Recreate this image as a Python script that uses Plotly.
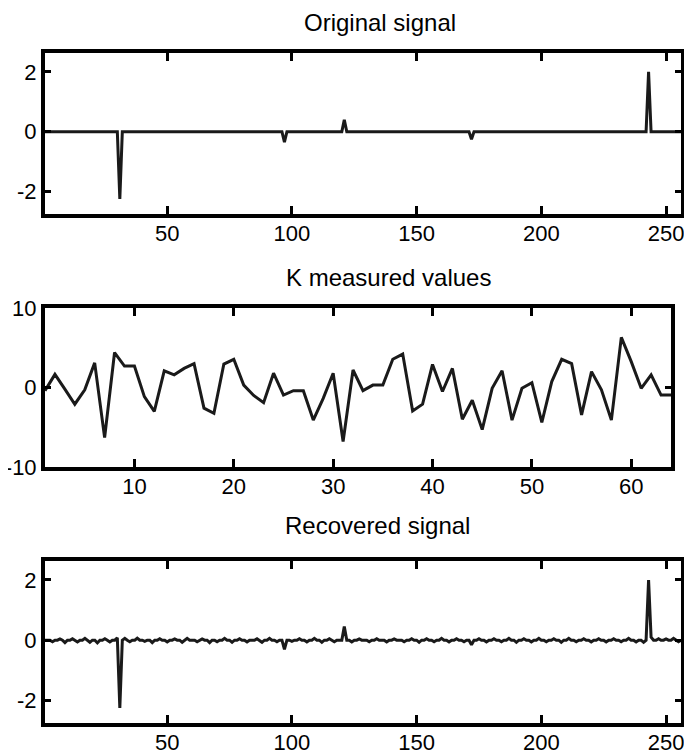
import plotly.graph_objects as go

# ---------------- data ----------------
N_SIGNAL = 256
orig_spike_idx = [31, 97, 121, 172, 243]
orig_spike_val = [-2.25, -0.35, 0.40, -0.25, 2.0]

measured_x = list(range(1, 65))
measured_y = [-0.4, 1.65, -0.2, -2.1, -0.3, 3.1, -6.3, 4.4, 2.7, 2.7,
              -1.15, -3.0, 2.1, 1.6, 2.4, 3.0, -2.6, -3.25, 2.95, 3.55,
              0.3, -1.0, -1.9, 1.8, -0.95, -0.4, -0.4, -4.1, -1.36, 1.8,
              -6.8, 2.2, -0.4, 0.3, 0.3, 3.55, 4.2, -2.95, -2.1, 2.9,
              -0.5, 2.4, -4.0, -1.6, -5.3, -0.1, 2.1, -4.1, -0.1, 0.6,
              -4.4, 0.75, 3.55, 3.0, -3.45, 2.0, -0.3, -4.1, 6.3, 3.25,
              -0.1, 1.6, -0.95, -0.95]

rec_spike_idx = [31, 97, 121, 172, 243, 244]
rec_spike_val = [-2.25, -0.30, 0.45, -0.15, 2.0, 0.1]
rec_noise_idx = [4, 7, 9, 12, 14, 17, 19, 22, 25, 27, 30, 33, 35, 38, 41, 44,
                 47, 50, 53, 56, 58, 62, 64, 67, 70, 73, 76, 79, 82, 86, 88,
                 91, 94, 100, 103, 106, 109, 112, 115, 117, 124, 127, 131,
                 134, 138, 141, 145, 148, 151, 154, 157, 160, 163, 166, 169,
                 175, 178, 181, 184, 187, 190, 193, 196, 199, 202, 205, 208,
                 211, 214, 217, 220, 223, 226, 229, 232, 235, 238, 241, 247,
                 250, 253, 255]
rec_noise_val = [-0.05, 0.04, -0.08, 0.05, -0.06, 0.06, -0.07, -0.09, 0.05,
                 -0.06, 0.08, 0.06, -0.05, 0.07, -0.04, -0.08, 0.05, -0.06,
                 0.04, -0.07, 0.06, -0.05, 0.04, -0.08, -0.05, 0.06, -0.07,
                 0.05, -0.06, 0.05, -0.07, 0.06, -0.05, -0.04, 0.05, -0.06,
                 0.06, -0.07, 0.05, -0.05, -0.06, 0.04, -0.05, 0.05, -0.06,
                 0.04, -0.05, 0.05, -0.07, 0.05, -0.05, 0.06, -0.06, 0.05,
                 -0.05, 0.05, -0.06, 0.05, -0.05, 0.06, -0.07, 0.05, -0.06,
                 0.06, -0.05, 0.05, -0.07, 0.06, -0.05, 0.05, -0.06, 0.05,
                 -0.06, 0.05, -0.05, 0.06, -0.06, -0.07, 0.05, 0.04, 0.06,
                 -0.05]

titles = ["Original signal", "K measured values", "Recovered signal"]
sig_ticks = [50, 100, 150, 200, 250]
sig_yticks = [-2, 0, 2]
sig_yticklabels = ["-2", "0", "2"]
meas_xticks = [10, 20, 30, 40, 50, 60]
meas_yticks = [-10, 0, 10]
meas_yticklabels = ["-10", "0", "10"]

# build signals from sparse entries
sig_x = list(range(1, N_SIGNAL + 1))
orig = [0.0] * N_SIGNAL
for i, v in zip(orig_spike_idx, orig_spike_val):
    orig[i - 1] = v
rec = [0.0] * N_SIGNAL
for i, v in zip(rec_noise_idx, rec_noise_val):
    rec[i - 1] = v
for i, v in zip(rec_spike_idx, rec_spike_val):
    rec[i - 1] = v

# ---------------- figure ----------------
OFF = 8                      # page body margin in the browser
W, H = 692 - OFF, 755 - OFF
FONT = "Liberation Sans, Arial, Helvetica, sans-serif"
line_style = dict(color="#1a1a1a", width=3)

fig = go.Figure()
fig.add_trace(go.Scatter(x=sig_x, y=orig, mode="lines", line=line_style,
                         xaxis="x", yaxis="y", showlegend=False))
fig.add_trace(go.Scatter(x=measured_x, y=measured_y, mode="lines", line=line_style,
                         xaxis="x2", yaxis="y2", showlegend=False))
fig.add_trace(go.Scatter(x=sig_x, y=rec, mode="lines", line=line_style,
                         xaxis="x3", yaxis="y3", showlegend=False))


def px_x(p):
    return (p - OFF) / W


def px_y(p):
    return 1 - (p - OFF) / H


panels = [
    # (left, right, top, bottom) pixels in the window
    (45, 681, 53, 214),
    (45, 671, 308, 467),
    (45, 681, 561, 723),
]
title_pos = [(380, 22), (389, 277), (377, 525)]

axis_common = dict(showline=True, linecolor="black", linewidth=4, mirror="ticks",
                   ticks="inside", tickwidth=3, tickcolor="black",
                   showgrid=False, zeroline=False, automargin=False,
                   tickfont=dict(family=FONT, size=22, color="black"))

layout = dict(width=W, height=H, margin=dict(l=0, r=0, t=0, b=0),
              paper_bgcolor="white", plot_bgcolor="white", showlegend=False)

xr = [[1, 256], [1, 64], [1, 256]]
yr = [[-2.75, 2.63], [-10, 10], [-2.75, 2.63]]
xt = [sig_ticks, meas_xticks, sig_ticks]
yt = [sig_yticks, meas_yticks, sig_yticks]
ytt = [sig_yticklabels, meas_yticklabels, sig_yticklabels]
names = ["", "2", "3"]
annotations = []
for k, (l, r, t, b) in enumerate(panels):
    n = names[k]
    layout["xaxis" + n] = dict(axis_common, domain=[px_x(l), px_x(r)], range=xr[k],
                               tickvals=xt[k], anchor="y" + n, ticklen=8,
                               ticklabelstandoff=-3)
    layout["yaxis" + n] = dict(axis_common, domain=[px_y(b), px_y(t)], range=yr[k],
                               tickvals=yt[k], ticktext=ytt[k], anchor="x" + n,
                               ticklen=6, ticklabelstandoff=0)
    tx, ty = title_pos[k]
    annotations.append(dict(text=titles[k], x=px_x(tx), y=px_y(ty),
                            xref="paper", yref="paper", xanchor="center", yanchor="middle",
                            showarrow=False, font=dict(family=FONT, size=24, color="black")))
layout["annotations"] = annotations
fig.update_layout(**layout)

fig.write_html("out.html")
